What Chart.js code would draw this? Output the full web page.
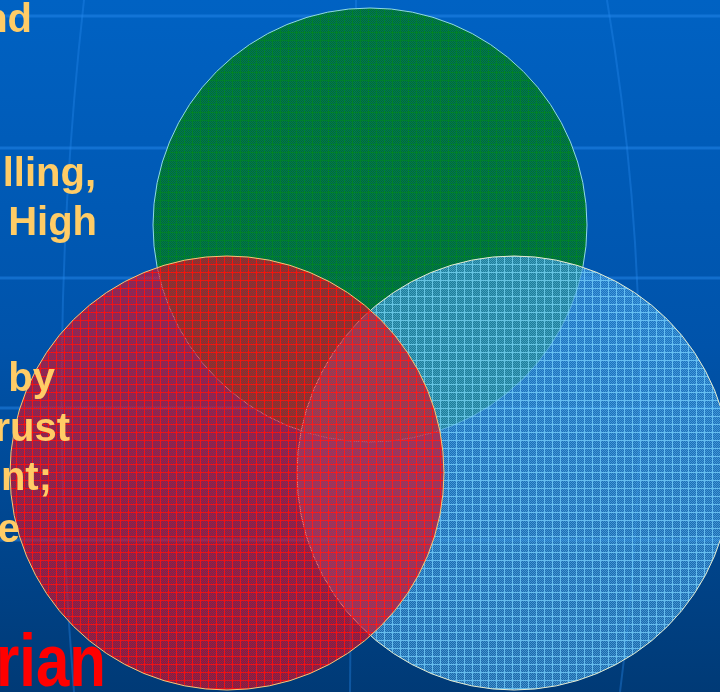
<!DOCTYPE html>
<html>
<head>
<meta charset="utf-8">
<script src="https://cdn.jsdelivr.net/npm/chart.js@4"></script>
<style>
  html, body { margin: 0; padding: 0; background: #004a98; }
  #wrap { width: 720px; height: 692px; position: relative; }
</style>
</head>
<body>
<div id="wrap"><canvas id="venn"></canvas></div>
<script>
// three overlapping circles (drawn bottom to top)
const circleNames = ['top', 'right', 'left'];
const circleX = [370, 514, 227];
const circleY = [225, 473, 473];
const circleR = [217, 217, 217];

// slide text that is cut off at the left edge
const sideLines = ['nd', 'lling,', 'High', 'by', 'rust', 'nt;', 'e'];
const bigWord = 'rian';

// woven pattern: grid lines plus a checker of two semi-transparent tones
function makePattern(lineColor, toneA, toneB) {
    const c = document.createElement('canvas');
    c.width = 8; c.height = 8;
    const g = c.getContext('2d');
    for (let y = 0; y < 8; y++) {
        for (let x = 0; x < 8; x++) {
            if (x === 0 || y === 0) g.fillStyle = lineColor;
            else g.fillStyle = (x + y) % 2 === 0 ? toneA : toneB;
            g.fillRect(x, y, 1, 1);
        }
    }
    return g.createPattern(c, 'repeat');
}

const fills = [
    makePattern('rgba(0,128,45,1)', 'rgba(0,120,42,1)', 'rgba(0,115,60,0.75)'),
    makePattern('rgba(115,205,252,0.88)', 'rgba(80,170,230,0.78)', 'rgba(55,140,210,0.55)'),
    makePattern('rgba(255,15,15,0.92)', 'rgba(235,10,20,0.78)', 'rgba(200,20,60,0.5)')
];
const edges = ['#8fd8e8', '#e6ecd0', '#f2c878'];

const slideBackground = {
    id: 'slideBackground',
    beforeDraw(chart) {
        const ctx = chart.ctx;
        const w = chart.width, h = chart.height;
        ctx.save();
        const grad = ctx.createLinearGradient(0, 0, 0, h);
        grad.addColorStop(0, '#0062c3');
        grad.addColorStop(0.5, '#0053aa');
        grad.addColorStop(1, '#003a76');
        ctx.fillStyle = grad;
        ctx.fillRect(0, 0, w, h);

        ctx.strokeStyle = 'rgba(40,140,240,0.45)';
        ctx.lineWidth = 3;
        [16, 148, 278, 408, 540].forEach(y => {
            ctx.beginPath();
            ctx.moveTo(0, y);
            ctx.lineTo(w, y);
            ctx.stroke();
        });
        ctx.lineWidth = 2;
        ctx.strokeStyle = 'rgba(40,140,240,0.35)';
        ctx.beginPath();
        ctx.moveTo(84, 0);
        ctx.quadraticCurveTo(45, 346, 74, 692);
        ctx.stroke();
        ctx.beginPath();
        ctx.moveTo(356, 0);
        ctx.lineTo(350, 692);
        ctx.stroke();
        ctx.beginPath();
        ctx.moveTo(607, 0);
        ctx.quadraticCurveTo(665, 346, 620, 692);
        ctx.stroke();
        ctx.restore();
    }
};

const slideText = {
    id: 'slideText',
    afterDraw(chart) {
        const ctx = chart.ctx;
        ctx.save();
        ctx.textAlign = 'right';
        ctx.textBaseline = 'alphabetic';
        ctx.fillStyle = '#ffcc66';
        ctx.font = 'bold 40px "Liberation Sans", Arial, sans-serif';
        const rightEdge = [32, 96, 97, 55, 70, 52, 20];
        const baseline = [32, 186, 235, 391, 441, 490, 542];
        sideLines.forEach((t, i) => ctx.fillText(t, rightEdge[i], baseline[i]));
        // the big word is horizontally squeezed on the slide
        ctx.fillStyle = '#ff0000';
        ctx.font = 'bold 75px "Liberation Sans", Arial, sans-serif';
        ctx.translate(106, 686);
        ctx.scale(0.8, 1);
        ctx.fillText(bigWord, 0, 0);
        ctx.restore();
    }
};

new Chart(document.getElementById('venn'), {
    type: 'bubble',
    data: {
        labels: circleNames,
        datasets: [{
            data: circleNames.map((n, i) => ({ x: circleX[i], y: circleY[i], r: circleR[i] })),
            backgroundColor: fills,
            hoverBackgroundColor: fills,
            borderColor: edges,
            hoverBorderColor: edges,
            borderWidth: 1,
            hoverBorderWidth: 1,
            hoverRadius: 0,
            clip: false
        }]
    },
    options: {
        responsive: true,
        maintainAspectRatio: false,
        animation: false,
        events: [],
        layout: { padding: 0, autoPadding: false },
        scales: {
            x: { type: 'linear', min: 0, max: 720, display: false },
            y: { type: 'linear', min: 0, max: 692, reverse: true, display: false }
        },
        plugins: { legend: { display: false }, tooltip: { enabled: false } }
    },
    plugins: [slideBackground, slideText]
});
</script>
</body>
</html>
